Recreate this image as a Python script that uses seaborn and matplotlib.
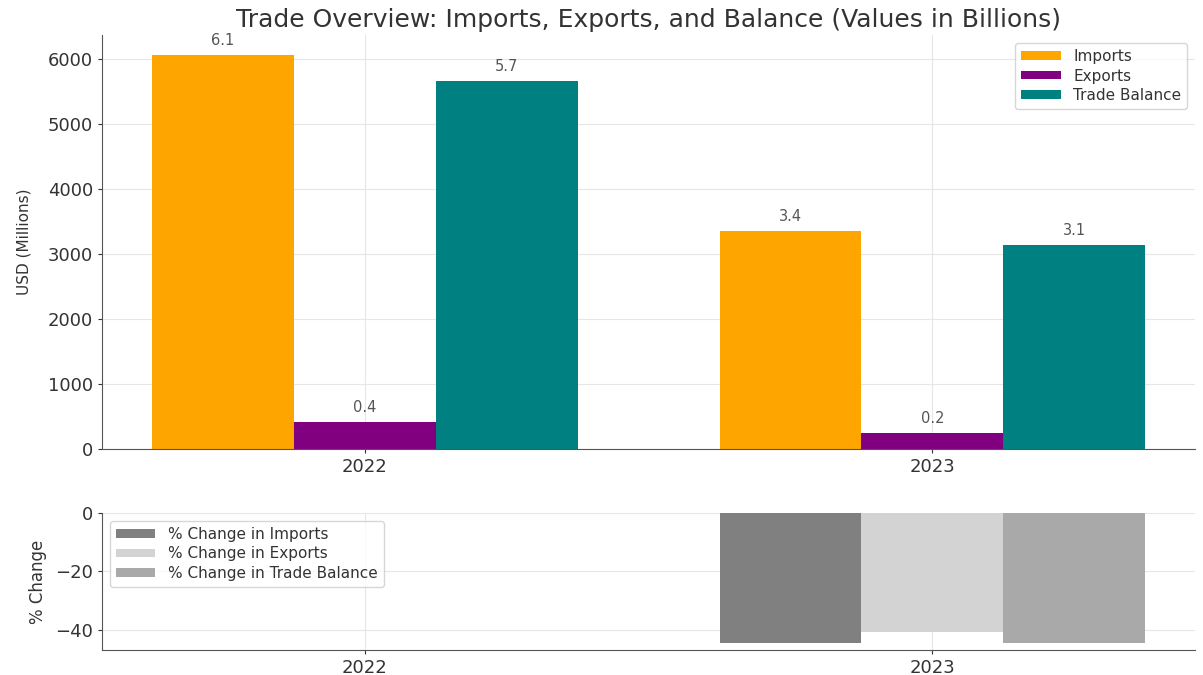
"""Trade overview: imports, exports and balance with % change panel."""

import matplotlib

matplotlib.use("Agg")
import matplotlib.pyplot as plt
import numpy as np
import pandas as pd
import seaborn as sns

# ---------------------------------------------------------------------------
# Data (USD millions)
# ---------------------------------------------------------------------------

years = ["2022", "2023"]
imports = [6060, 3354]
exports = [415, 246]
trade_balance = [5662, 3138]

series_names = ["Imports", "Exports", "Trade Balance"]
pct_names = [
    "% Change in Imports",
    "% Change in Exports",
    "% Change in Trade Balance",
]
pct_imports = [np.nan, -44.6]
pct_exports = [np.nan, -40.7]
pct_balance = [np.nan, -44.6]

COLOURS = ["#FFA500", "#800080", "#008080"]
GREYS = ["#808080", "#D3D3D3", "#A9A9A9"]
TEXT = "#333333"

# ---------------------------------------------------------------------------
# Style
# ---------------------------------------------------------------------------

sns.set_style("whitegrid", {
    "axes.edgecolor": "#555555",
    "grid.color": "#E6E6E6",
    "xtick.bottom": True,
    "ytick.left": True,
})
plt.rcParams["font.family"] = ["DejaVu Sans"]
plt.rcParams["text.color"] = TEXT
plt.rcParams["axes.labelcolor"] = TEXT
plt.rcParams["xtick.color"] = TEXT
plt.rcParams["ytick.color"] = TEXT

values = pd.DataFrame({
    "Year": years * 3,
    "Type": [n for n in series_names for _ in years],
    "Value": imports + exports + trade_balance,
})
changes = pd.DataFrame({
    "Year": years * 3,
    "Type": [n for n in pct_names for _ in years],
    "Value": pct_imports + pct_exports + pct_balance,
})

fig = plt.figure(figsize=(12.03, 6.75), dpi=100)
ax = fig.add_axes([0.0848, 0.3348, 0.9086, 0.613])
ax2 = fig.add_axes([0.0848, 0.037, 0.9086, 0.203])

LEGEND_KW = dict(fontsize=11, frameon=True, title=None, handlelength=2.6,
                 handleheight=0.5, labelspacing=0.3, borderpad=0.4)

# ---------------------------------------------------------------------------
# Top panel
# ---------------------------------------------------------------------------

sns.barplot(
    data=values, x="Year", y="Value", hue="Type", order=years,
    hue_order=series_names, palette=COLOURS, width=0.75, gap=0,
    errorbar=None, saturation=1, linewidth=0, ax=ax,
)
for container in ax.containers:
    ax.bar_label(
        container,
        labels=[f"{b.get_height() / 1000:.1f}" for b in container],
        padding=5, fontsize=10.5, color="#555555",
    )

ax.set_xlim(-0.4625, 1.4625)
ax.set_ylim(0, 6363)
ax.grid(True, axis="both")
ax.set_xlabel("")
ax.set_ylabel("USD (Millions)", fontsize=11, labelpad=12)
ax.tick_params(axis="both", labelsize=13, length=3)
ax.set_title(
    "Trade Overview: Imports, Exports, and Balance (Values in Billions)",
    fontsize=18, pad=6,
)
sns.despine(ax=ax)
ax.legend(loc="upper right", **LEGEND_KW)

# ---------------------------------------------------------------------------
# Bottom panel
# ---------------------------------------------------------------------------

sns.barplot(
    data=changes, x="Year", y="Value", hue="Type", order=years,
    hue_order=pct_names, palette=GREYS, width=0.75, gap=0,
    errorbar=None, saturation=1, linewidth=0, ax=ax2,
)
ax2.set_xlim(-0.4625, 1.4625)
ax2.set_ylim(-46.9, 0)
ax2.set_yticks([0, -20, -40])
ax2.grid(True, axis="both")
ax2.set_xlabel("")
ax2.set_ylabel("% Change", fontsize=12, labelpad=6)
ax2.tick_params(axis="both", labelsize=13, length=3)
sns.despine(ax=ax2)
ax2.legend(loc="upper left", **LEGEND_KW)

fig.savefig("out.png", dpi=100)
print("Saved out.png")
